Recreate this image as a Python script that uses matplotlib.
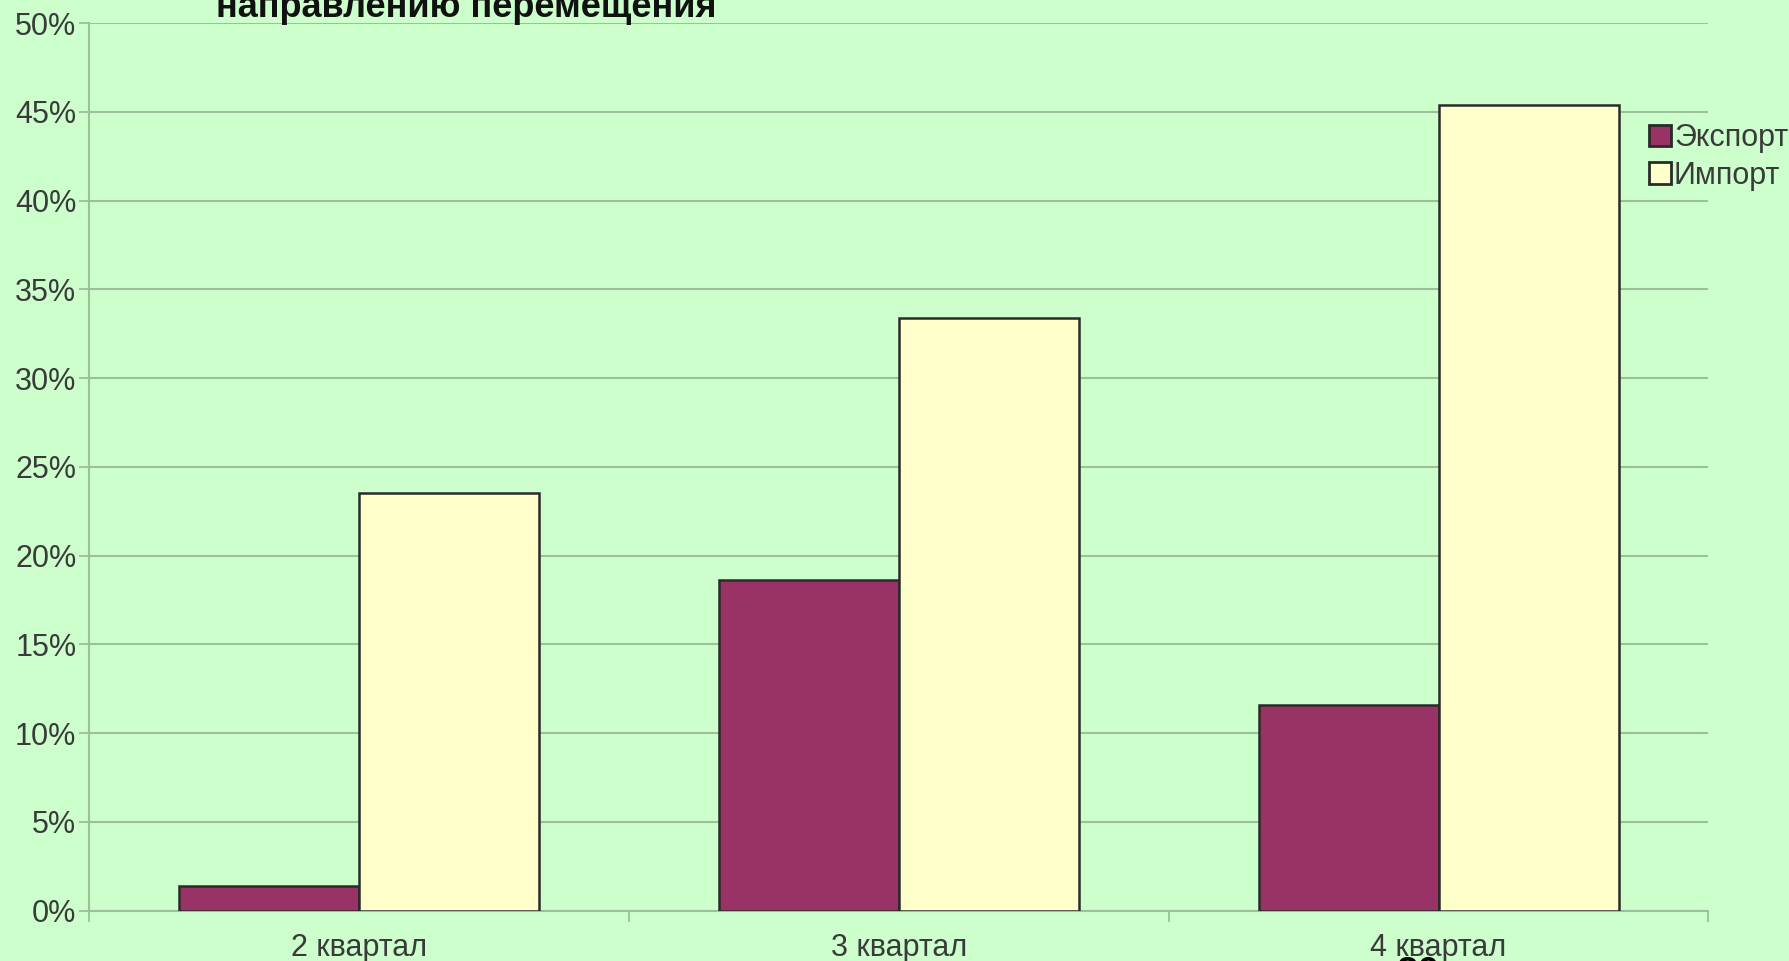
import numpy as np
import matplotlib.pyplot as plt
from matplotlib.ticker import FixedLocator, PercentFormatter

# quarterly shares by direction of movement
quarters = ['2 квартал', '3 квартал', '4 квартал']
export_vals = [1.4, 18.6, 11.6]
import_vals = [23.5, 33.4, 45.4]
series_names = ['Экспорт', 'Импорт']
yticks = [0, 5, 10, 15, 20, 25, 30, 35, 40, 45, 50]

bg = '#ccffcc'
grid_col = '#9cbf9c'
txt_col = '#3a3a3a'

plt.rcParams['font.family'] = ['Liberation Sans', 'DejaVu Sans']

fig = plt.figure(figsize=(17.89, 9.61), dpi=100, facecolor=bg)
ax = fig.add_axes([0.0497, 0.0524, 0.9053, 0.9236], facecolor=bg)

x = np.arange(len(quarters))
w = 1 / 3
ax.bar(x - w / 2, export_vals, width=w, color='#993366', edgecolor='#2a2a2a',
       linewidth=1.8, label=series_names[0], zorder=3)
ax.bar(x + w / 2, import_vals, width=w, color='#ffffcc', edgecolor='#2a2a2a',
       linewidth=1.8, label=series_names[1], zorder=3)

ax.set_xlim(-0.5, len(quarters) - 0.5)
ax.set_ylim(0, 50)
ax.set_yticks(yticks)
ax.yaxis.set_major_formatter(PercentFormatter(decimals=0))
ax.yaxis.grid(True, color=grid_col, linewidth=1.5, zorder=0)

ax.set_xticks(x)
ax.set_xticklabels(quarters)
ax.xaxis.set_minor_locator(FixedLocator(np.arange(-0.5, len(quarters), 1)))
ax.tick_params(axis='x', which='major', length=0, pad=16, labelsize=22,
               labelcolor=txt_col)
ax.tick_params(axis='x', which='minor', length=8, width=1.3, color=grid_col)
ax.tick_params(axis='y', length=7, width=1.3, color=grid_col, labelsize=22,
               labelcolor=txt_col, pad=2)

for side in ['top', 'right']:
    ax.spines[side].set_visible(False)
ax.spines['left'].set_color(grid_col)
ax.spines['left'].set_linewidth(1.5)
ax.spines['bottom'].set_color(grid_col)
ax.spines['bottom'].set_linewidth(1.5)

leg = fig.legend(loc='upper left', bbox_to_anchor=(0.922, 0.872),
                 frameon=False, fontsize=22, handlelength=0.7,
                 handleheight=0.7, handletextpad=0.1, labelspacing=0.25,
                 borderaxespad=0, borderpad=0)
for t in leg.get_texts():
    t.set_color(txt_col)
for h in leg.legend_handles:
    h.set_linewidth(2.0)

# title cut off at the top of the slide
fig.text(0.121, 0.982, 'направлению перемещения', fontsize=26,
         fontweight='bold', color='#111111', ha='left', va='baseline')
# page number cut off at the bottom
fig.text(0.793, -0.014, '20', fontsize=28, fontweight='bold', color='black',
         ha='center', va='center')

fig.savefig('out.png', dpi=100, facecolor=bg)
